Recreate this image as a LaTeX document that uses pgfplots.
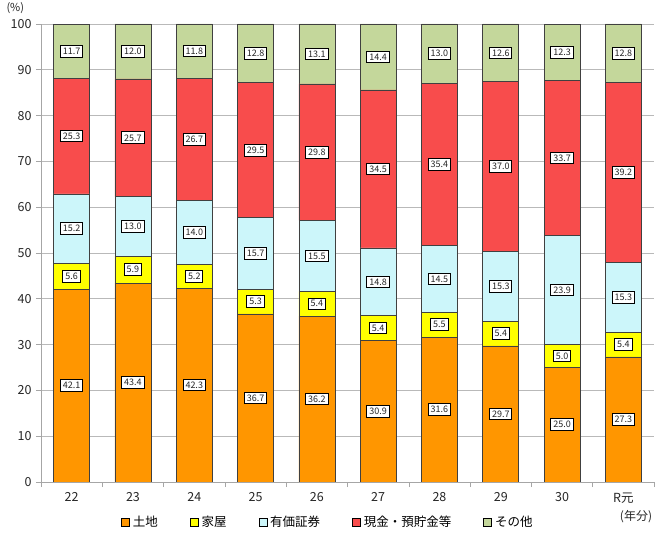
\documentclass[border=0pt]{standalone}
\usepackage{pgfplots}
\pgfplotsset{compat=1.18}
\usepackage{pgfplotstable}
\usepackage{fontspec}
\setmainfont{Noto Sans CJK JP}

\definecolor{cLand}{RGB}{255,150,0}
\definecolor{cHouse}{RGB}{255,255,0}
\definecolor{cSec}{RGB}{204,246,250}
\definecolor{cCash}{RGB}{248,76,76}
\definecolor{cOther}{RGB}{196,215,155}

\pgfplotstableread{
x a b c d e
0 42.1 5.6 15.2 25.3 11.7
1 43.4 5.9 13.0 25.7 12.0
2 42.3 5.2 14.0 26.7 11.8
3 36.7 5.3 15.7 29.5 12.8
4 36.2 5.4 15.5 29.8 13.1
5 30.9 5.4 14.8 34.5 14.4
6 31.6 5.5 14.5 35.4 13.0
7 29.7 5.4 15.3 37.0 12.6
8 25.0 5.0 23.9 33.7 12.3
9 27.3 5.4 15.3 39.2 12.8
}\data

\pgfplotsset{
  mylegend/.style={legend image code/.code={\draw[##1,draw=black,line width=0.7pt] (0bp,-4bp) rectangle (8bp,4bp);}},
}

\begin{document}
\begin{tikzpicture}
\useasboundingbox (0,0) rectangle (660bp,534bp);
\begin{axis}[
  at={(41bp,52bp)}, anchor=south west,
  scale only axis, width=613bp, height=458bp,
  ybar stacked, bar width=36bp,
  xmin=-0.5, xmax=9.5, ymin=0, ymax=100,
  xtick={-0.5,0.5,...,9.5},
  xticklabels={22,23,24,25,26,27,28,29,30,R元},
  x tick label as interval,
  ytick={0,10,...,100},
  ymajorgrids, grid style={gray!55, line width=0.6pt},
  axis x line*=bottom, axis y line*=left,
  axis line style={gray!70, line width=0.6pt, -},
  tick style={gray!70, line width=0.6pt},
  tick align=outside, major tick length=5bp,
  ticklabel style={font=\fontsize{12.5bp}{14bp}\selectfont, text=black!85},
  yticklabel style={xshift=-1bp},
  xticklabel style={yshift=-2bp},
  /pgf/number format/assume math mode=true,
  every axis plot/.append style={draw=black!75, line width=0.6pt},
  visualization depends on=rawy \as \rawy,
  nodes near coords={\pgfmathprintnumber[fixed,fixed zerofill,precision=1]{\rawy}},
  every node near coord/.append style={anchor=center,
     draw=black, line width=1pt, fill=white, inner sep=2.5bp, text=black!85,
     font=\fontsize{9bp}{10bp}\selectfont},
  legend columns=5,
  legend style={draw=none, fill=none, at={(0.468,-0.087)}, anchor=center,
     font=\fontsize{12.5bp}{14bp}\selectfont,
     /tikz/every odd column/.append style={column sep=1bp},
     /tikz/every even column/.append style={column sep=30bp}},
  legend cell align=left,
]
\addplot[fill=cLand, mylegend] table[x=x,y=a]{\data};
\addplot[fill=cHouse, mylegend] table[x=x,y=b]{\data};
\addplot[fill=cSec, mylegend] table[x=x,y=c]{\data};
\addplot[fill=cCash, mylegend] table[x=x,y=d]{\data};
\addplot[fill=cOther, mylegend] table[x=x,y=e]{\data};
\legend{土地,家屋,有価証券,現金・預貯金等,その他}
\end{axis}
\node[anchor=west, font=\fontsize{11bp}{12bp}\selectfont, text=black!85] at (3bp,526bp) {(\%)};
\node[font=\fontsize{12bp}{13bp}\selectfont, text=black!85] at (636bp,17bp) {(年分)};
\end{tikzpicture}
\end{document}
